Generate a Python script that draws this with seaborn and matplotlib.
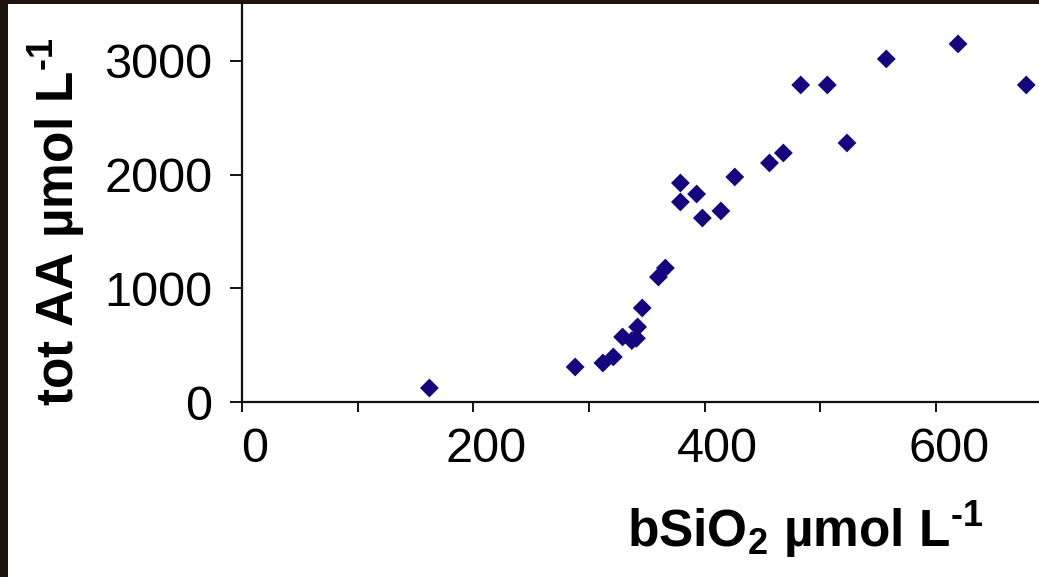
import matplotlib
matplotlib.use("Agg")
import matplotlib.pyplot as plt
import matplotlib.transforms as mtransforms
from matplotlib.patches import Rectangle
from matplotlib.ticker import MultipleLocator
import seaborn as sns
import pandas as pd

# Data
bsio2 = [162, 288, 312, 321, 329, 337, 341, 342, 346, 360, 366,
         379, 379, 393, 398, 414, 426, 456, 468, 483, 506, 523, 557, 619, 678]
tot_aa = [123, 308, 343, 396, 572, 540, 560, 660, 827, 1099, 1178,
          1926, 1759, 1829, 1618, 1680, 1979, 2102, 2190, 2788, 2788, 2278, 3017, 3149, 2788]
x_ticks = [0, 200, 400, 600]
y_ticks = [0, 1000, 2000, 3000]

df = pd.DataFrame({"bsio2": bsio2, "tot_aa": tot_aa})

sns.set_theme(style="white")
plt.rcParams["font.family"] = ["Liberation Sans", "DejaVu Sans"]
plt.rcParams["mathtext.fontset"] = "custom"
plt.rcParams["mathtext.rm"] = "Liberation Sans"
plt.rcParams["mathtext.bf"] = "Liberation Sans:bold"
plt.rcParams["text.color"] = "black"
plt.rcParams["xtick.color"] = "black"
plt.rcParams["ytick.color"] = "black"

W, H = 1039, 577
fig = plt.figure(figsize=(W / 100, H / 100), dpi=100, facecolor="#1f150e")
fig.patches.append(Rectangle((8 / W, 0), 1, 1 - 4 / H, transform=fig.transFigure,
                             facecolor="white", edgecolor="none", zorder=-10))
ax = fig.add_axes([242 / W, 175 / H, (W - 242) / W, (402 - 4) / H])
ax.set_facecolor("none")

sns.scatterplot(data=df, x="bsio2", y="tot_aa", marker="D", s=92,
                color="#14067e", edgecolor="none", ax=ax, legend=False, zorder=3)

ax.set_xlim(0, 689)
ax.set_ylim(0, 3500)
ax.set_xticks(x_ticks)
ax.set_yticks(y_ticks)
ax.xaxis.set_minor_locator(MultipleLocator(100))

for side in ["top", "right"]:
    ax.spines[side].set_visible(False)
for side in ["left", "bottom"]:
    ax.spines[side].set_linewidth(1.6)
    ax.spines[side].set_color("#111111")
    ax.spines[side].set_zorder(2)

ax.tick_params(axis="y", which="major", direction="out", length=8.5, width=1.4,
               color="#111111", labelcolor="black", labelsize=35, pad=13, left=True)
ax.tick_params(axis="x", which="both", direction="out", length=7, width=1.4,
               color="#111111", labelcolor="black", labelsize=35, pad=11, bottom=True)
ax.tick_params(axis="x", which="minor", labelbottom=False)

offset = mtransforms.ScaledTranslation(13 / 100, 0, fig.dpi_scale_trans)
for lab in ax.get_xticklabels():
    lab.set_transform(lab.get_transform() + offset)

ax.set_xlabel("")
ax.set_ylabel("")
fig.text(805 / W, 1 - 547 / H, "bSiO$_{\\mathbf{2}}$ µmol L$^{\\mathbf{\u20101}}$",
         fontsize=37, fontweight="bold", ha="center", va="baseline", color="black")
fig.text(57 / W, 1 - 222 / H, "tot AA µmol L$^{\\mathbf{\u20101}}$",
         fontsize=37, fontweight="bold", ha="center", va="center", rotation=90,
         color="black")

fig.savefig("out.png", dpi=100, facecolor=fig.get_facecolor())
